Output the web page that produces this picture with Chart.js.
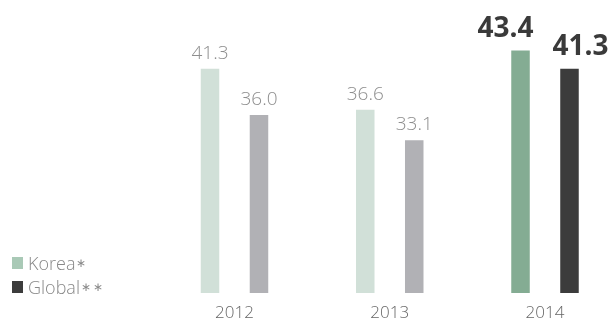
<!DOCTYPE html>
<html>
<head>
<meta charset="utf-8">
<script src="https://cdn.jsdelivr.net/npm/chart.js@4.4.1/dist/chart.umd.min.js"></script>
<style>
  html, body { margin: 0; padding: 0; background: #fff; }
  .wrap { position: relative; width: 610px; height: 322px; }
  canvas { display: block; }
  .legend { position: absolute; left: 12px; top: 251px; font-family: 'Open Sans', sans-serif; font-weight: 300; font-size: 18px; color: #888; }
  .legend div { height: 24px; line-height: 24px; display: flex; align-items: center; }
  .legend span.box { display: inline-block; width: 11px; height: 12px; margin-right: 5px; }
  .legend span.ast { font-size: 12px; margin-left: 1px; letter-spacing: 2px; }
</style>
</head>
<body>
<div class="wrap">
  <canvas id="chart" width="610" height="322"></canvas>
  <div class="legend">
    <div><span class="box" style="background:#a9c9b6"></span>Korea<span class="ast">∗</span></div>
    <div><span class="box" style="background:#3c3c3c"></span>Global<span class="ast">∗∗</span></div>
  </div>
</div>
<script>
// chart data
const years = ['2012', '2013', '2014'];
const korea = [41.3, 36.6, 43.4];
const global = [36.0, 33.1, 41.3];

const yMin = 15.6;
const yMax = 46.9;

const koreaColors = ['#d1e0d8', '#d1e0d8', '#84ac93'];
const globalColors = ['#b1b1b5', '#b1b1b5', '#3c3c3c'];

// value labels above bars, last year bold
const valueLabels = {
  id: 'valueLabels',
  afterDatasetsDraw(chart) {
    const ctx = chart.ctx;
    ctx.save();
    ctx.textAlign = 'center';
    ctx.textBaseline = 'alphabetic';
    chart.data.datasets.forEach((ds, di) => {
      chart.getDatasetMeta(di).data.forEach((bar, i) => {
        const last = i === years.length - 1;
        let x = bar.x;
        if (last) x += di === 0 ? -15 : 11;
        ctx.font = last ? '700 28px "Open Sans"' : '300 19px "Open Sans"';
        ctx.fillStyle = last ? '#3a3a3a' : '#8e8e8e';
        ctx.fillText(ds.data[i].toFixed(1), x, bar.y - (last ? 14 : 10));
      });
    });
    ctx.restore();
  }
};

new Chart(document.getElementById('chart'), {
  type: 'bar',
  data: {
    labels: years,
    datasets: [
      { label: 'Korea*', data: korea, backgroundColor: koreaColors, base: yMin, clip: false },
      { label: 'Global**', data: global, backgroundColor: globalColors, base: yMin, clip: false }
    ]
  },
  options: {
    responsive: false,
    animation: false,
    categoryPercentage: 0.631,
    barPercentage: 0.378,
    layout: { padding: { left: 234.5, right: 65, top: 20, bottom: 0 } },
    plugins: { legend: { display: false }, tooltip: { enabled: false } },
    scales: {
      x: {
        offset: false,
        grid: { display: false, drawTicks: false },
        border: { display: false },
        ticks: { color: '#666', padding: 10, font: { family: 'Open Sans', size: 17, weight: 300 } },
        afterFit: (scale) => { scale.height = 29; }
      },
      y: { display: false, min: yMin, max: yMax }
    }
  },
  plugins: [valueLabels]
});
</script>
</body>
</html>
